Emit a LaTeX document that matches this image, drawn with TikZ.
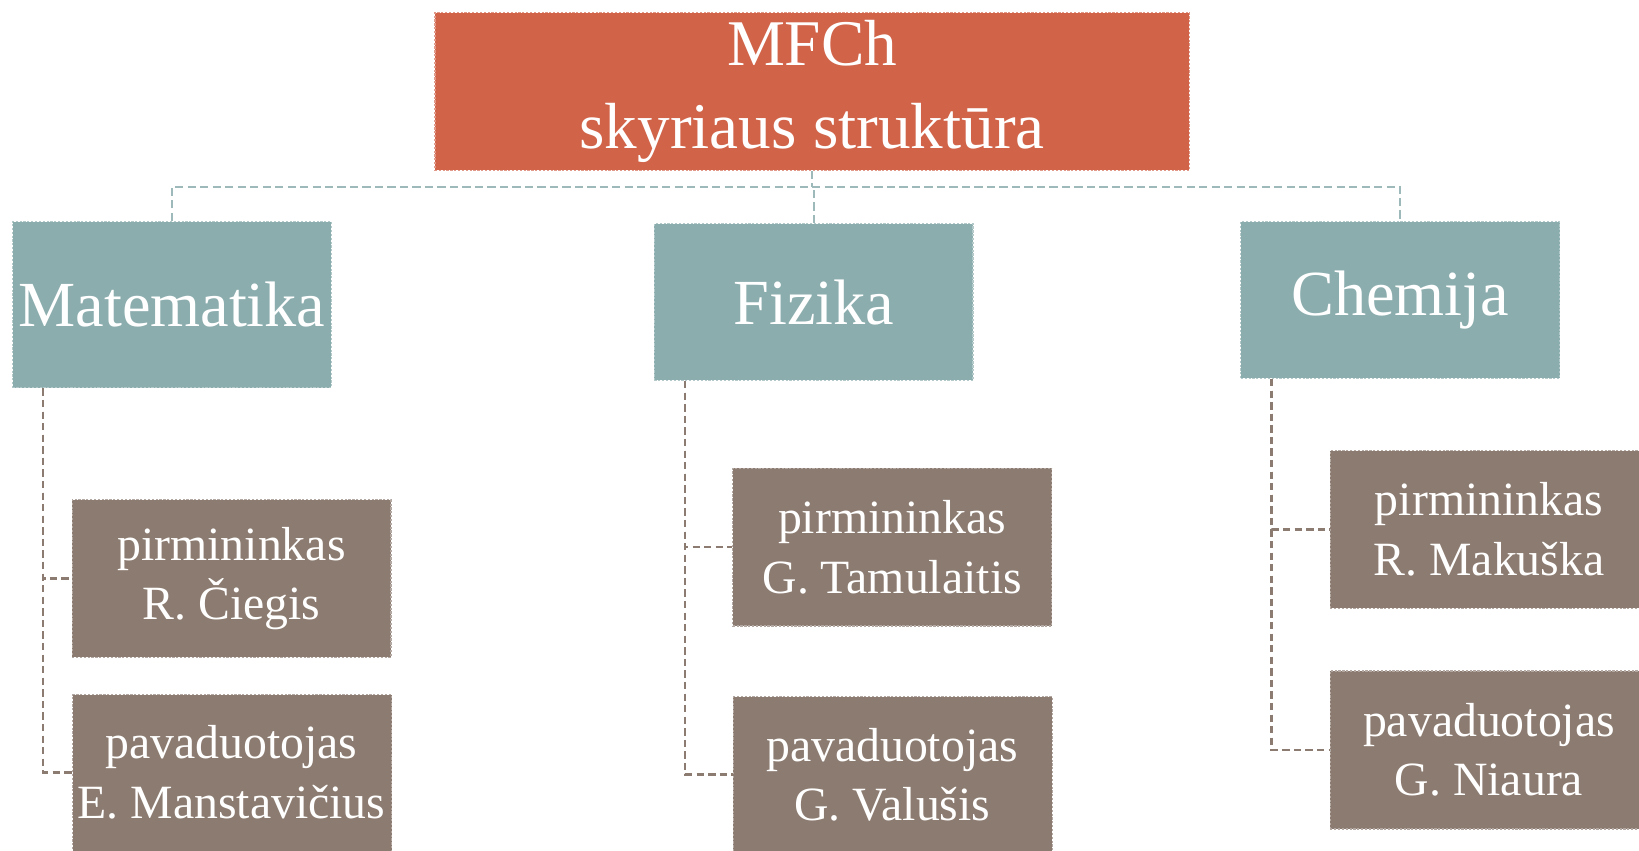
\documentclass[tikz,border=0pt]{standalone}
\usepackage{fontspec}
\setmainfont{Liberation Serif}
\usepackage{tikz}
\definecolor{civicred}{RGB}{209, 99, 73}
\definecolor{civicteal}{RGB}{140, 173, 174}
\definecolor{civicbrown}{RGB}{140, 123, 112}
\usetikzlibrary{positioning, calc}

\begin{document}
\begin{tikzpicture}[
    x=0.02cm, y=-0.02cm,
    box/.style={rectangle, inner sep=1pt, align=center, text=white, line width=0.7pt, dash pattern=on 1.2pt off 0.9pt},
    head/.style={box, draw=civicred!65!white, fill=civicred, minimum width=14.44cm, minimum height=3.02cm, font=\fontsize{35.5}{45.5}\selectfont},
    dept/.style={box, draw=civicteal!65!white, fill=civicteal, minimum width=6.1cm, minimum height=3cm, font=\fontsize{35}{44}\selectfont},
    person/.style={box, draw=civicbrown!65!white, fill=civicbrown, minimum width=6.1cm, minimum height=3.02cm, font=\fontsize{26}{32.4}\selectfont},
    persontext/.style={inner sep=0pt, align=center, text=white, font=\fontsize{26}{32.4}\selectfont},
    busline/.style={draw=civicteal!85!white, line width=1.2pt, dash pattern=on 4.5pt off 2.3pt},
    branch/.style={draw=civicbrown, line width=1.2pt, dash pattern=on 4pt off 2.3pt}
]
    \useasboundingbox (0,0) rectangle (1568,814);
    \clip (0,0) rectangle (1568,814);

    % head and departments
    \node[head] (mfch) at (777,87.5) {MFCh\\skyriaus struktūra};
    \node[dept, minimum height=3.18cm] (mat) at (164.5,291.5) {Matematika};
    \node[dept] (fiz) at (778.5,289) {Fizika};
    \node[dept] (chem) at (1339.5,287) {Chemija};

    % people
    \node[person] (mat1) at (221.5,553.5) {pirmininkas\\R. Čiegis};
    \node[person, anchor=north west, minimum height=4cm] (mat2) at (69,664) {};
    \node[persontext] (mat2txt) at (221.5,739) {pavaduotojas\\E. Manstavičius};
    \node[person] (fiz1) at (853.5,523.5) {pirmininkas\\G. Tamulaitis};
    \node[person, anchor=north west, minimum height=4cm] (fiz2) at (701,666) {};
    \node[persontext] (fiz2txt) at (853.5,741) {pavaduotojas\\G. Valušis};
    \node[person, anchor=west, minimum width=8cm] (chem1) at (1272,506.5) {};
    \node[persontext] (chem1txt) at (1424.5,506.5) {pirmininkas\\R. Makuška};
    \node[person, anchor=west, minimum width=8cm] (chem2) at (1272,717.5) {};
    \node[persontext] (chem2txt) at (1424.5,717.5) {pavaduotojas\\G. Niaura};

    % connectors
    \coordinate (fork) at ($(mfch.south)+(0,15)$);
    \draw[busline] (mfch.south) -- (fork);
    \draw[busline] (mat.north) |- (fork) -| (chem.north);
    \draw[busline] (fiz.north) -- (fiz.north |- fork);

    \coordinate (matstem) at ($(mat.south west)+(30,0)$);
    \coordinate (fizstem) at ($(fiz.south west)+(30,0)$);
    \coordinate (chemstem) at ($(chem.south west)+(30,0)$);
    \draw[branch] (matstem) |- (mat1.west);
    \draw[branch] (matstem) |- (mat2.west |- mat2txt);
    \draw[branch] (fizstem) |- (fiz1.west);
    \draw[branch] (fizstem) |- (fiz2.west |- fiz2txt);
    \draw[branch] (chemstem) |- (chem1.west);
    \draw[branch] (chemstem) |- (chem2.west);
\end{tikzpicture}
\end{document}
